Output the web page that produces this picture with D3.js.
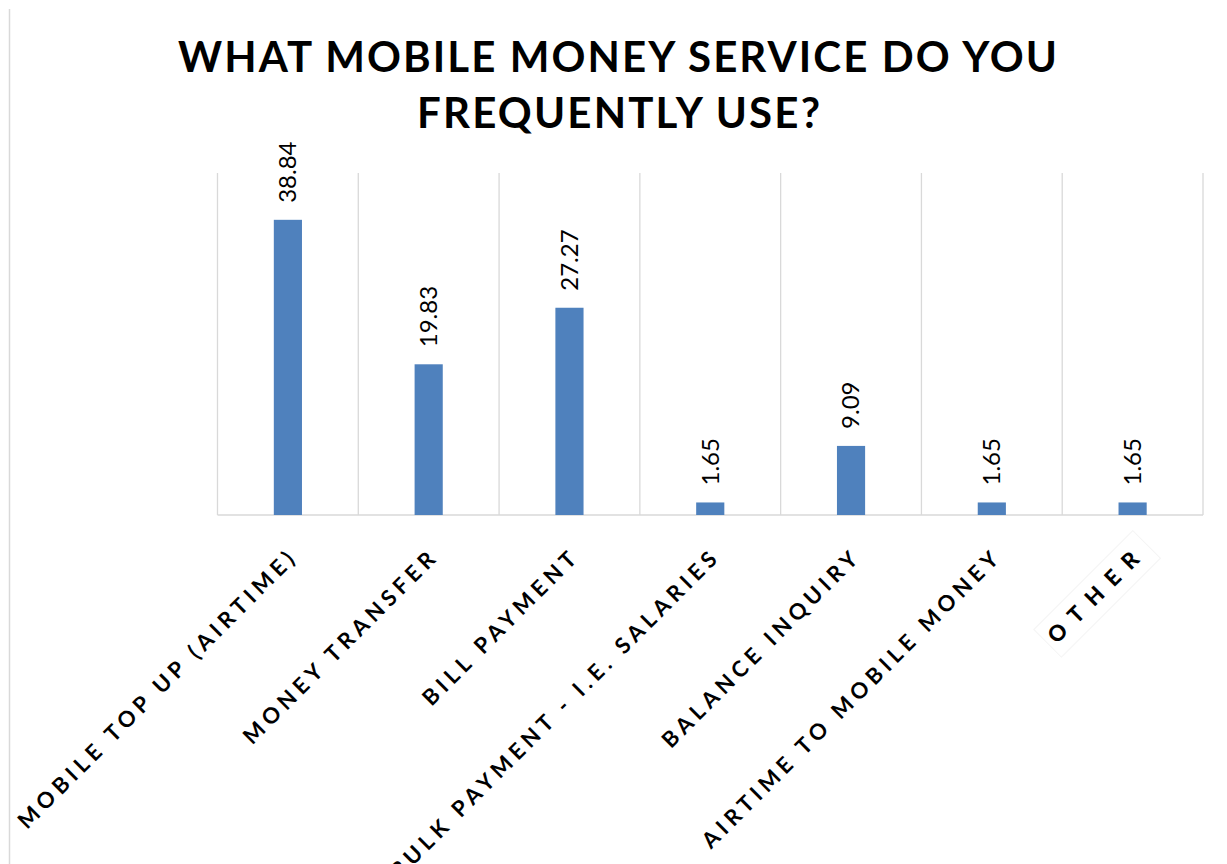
<!DOCTYPE html>
<html>
<head>
<meta charset="utf-8">
<script src="https://cdn.jsdelivr.net/npm/d3@7/dist/d3.min.js"></script>
<style>
  html, body { margin: 0; padding: 0; background: #fff; }
  svg { display: block; }
</style>
</head>
<body>
<svg id="chart" width="1227" height="864"></svg>
<script>
// Survey answers: share of respondents (%) per mobile money service
const categories = [
  "MOBILE TOP UP (AIRTIME)",
  "MONEY TRANSFER",
  "BILL PAYMENT",
  "BULK PAYMENT - I.E. SALARIES",
  "BALANCE INQUIRY",
  "AIRTIME TO MOBILE MONEY",
  "OTHER"
];
const values = [38.84, 19.83, 27.27, 1.65, 9.09, 1.65, 1.65];
const valueLabels = ["38.84", "19.83", "27.27", "1.65", "9.09", "1.65", "1.65"];
const titleLines = ["WHAT MOBILE MONEY SERVICE DO YOU", "FREQUENTLY USE?"];

const svg = d3.select("#chart");
const W = 1227, H = 864;
const plot = { left: 217.5, right: 1203, top: 173, bottom: 515 };

// outer chart-area edge
svg.append("line")
  .attr("x1", 9.5).attr("x2", 9.5).attr("y1", 9).attr("y2", H)
  .attr("stroke", "#d9d9d9").attr("stroke-width", 1.5);

// title
const title = svg.append("g").attr("font-family", "Lato, 'Open Sans', sans-serif")
  .attr("font-weight", 700).attr("fill", "#000").attr("text-anchor", "middle");
title.append("text").attr("x", 617.5).attr("y", 72).attr("font-size", 42)
  .attr("textLength", 879).attr("lengthAdjust", "spacing").text(titleLines[0]);
title.append("text").attr("x", 618.5).attr("y", 128).attr("font-size", 42)
  .attr("textLength", 403).attr("lengthAdjust", "spacing").text(titleLines[1]);

// scales
const x = d3.scaleBand().domain(categories).range([plot.left, plot.right])
  .paddingInner(0).paddingOuter(0);
const y = d3.scaleLinear().domain([0, 45]).range([plot.bottom, plot.top]);
const barW = x.bandwidth() * 0.2;

// vertical gridlines at category boundaries
const bounds = categories.map(c => x(c)).concat([x.range()[1]]);
svg.append("g").selectAll("line").data(bounds).join("line")
  .attr("x1", d => d).attr("x2", d => d)
  .attr("y1", plot.top).attr("y2", plot.bottom)
  .attr("stroke", "#d9d9d9").attr("stroke-width", 1.3);

// category axis line
svg.append("line")
  .attr("x1", plot.left).attr("x2", plot.right)
  .attr("y1", plot.bottom).attr("y2", plot.bottom)
  .attr("stroke", "#d9d9d9").attr("stroke-width", 1.5);

// bars
const cx = c => x(c) + x.bandwidth() / 2;
svg.append("g").selectAll("rect").data(categories).join("rect")
  .attr("x", c => cx(c) - barW / 2)
  .attr("y", (c, i) => y(values[i]))
  .attr("width", barW)
  .attr("height", (c, i) => y(0) - y(values[i]))
  .attr("fill", "#4f81bd");

// value labels, rotated above each bar
svg.append("g").selectAll("text").data(categories).join("text")
  .attr("transform", (c, i) => `translate(${cx(c)},${y(values[i]) - 17}) rotate(-90)`)
  .attr("dy", "0.35em")
  .attr("font-family", "Lato, sans-serif")
  .attr("font-size", 24)
  .attr("fill", "#000")
  .text((c, i) => valueLabels[i]);

// category labels at -45 degrees; the trailing letter-spacing is pushed
// past the anchor so the last glyph ends at the anchor point
const isOther = c => c === "OTHER";
const spacing = c => isOther(c) ? 11 : 4.9;
const labels = svg.append("g").selectAll("g").data(categories).join("g")
  .attr("transform", c => `translate(${cx(c) + 8},${plot.bottom + 46}) rotate(-45)`);

labels.filter(isOther).append("rect")
  .attr("x", -124).attr("y", -27).attr("width", 140).attr("height", 39)
  .attr("fill", "#fff").attr("stroke", "#f4f4f4");

labels.append("text")
  .attr("text-anchor", "end")
  .attr("dx", c => spacing(c))
  .attr("font-family", "Lato, sans-serif")
  .attr("font-weight", c => isOther(c) ? 900 : 700)
  .attr("font-size", 22)
  .attr("letter-spacing", spacing)
  .attr("fill", "#000")
  .text(c => c);
</script>
</body>
</html>
